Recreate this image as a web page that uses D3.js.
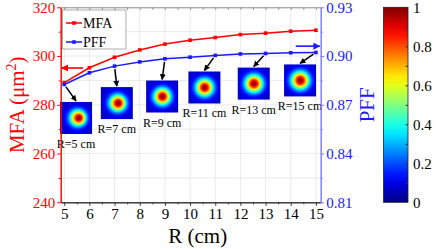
<!DOCTYPE html>
<html>
<head>
<script src="https://cdn.jsdelivr.net/npm/d3@7"></script>
<style>
    body { margin: 0; background: white; }
    svg { display: block; font-family: "Liberation Serif", "Times New Roman", serif; }
    .grid line { stroke: #e6e6e6; stroke-width: 0.8; }
</style>
</head>
<body>
<div id="chart"></div>
<script>
// data
const radius = [5, 6, 7, 8, 9, 10, 11, 12, 13, 14, 15]
const mfa = [289.1, 295.2, 299.5, 302.5, 304.9, 306.5, 307.6, 308.8, 309.4, 310.2, 310.6]
const pff = [0.8825, 0.8897, 0.8938, 0.8964, 0.8983, 0.8993, 0.9004, 0.9013, 0.9016, 0.9020, 0.9022]
const mfaTicks = [240, 260, 280, 300, 320]
const pffTicks = [0.81, 0.84, 0.87, 0.90, 0.93]
const barTicks = [0, 0.2, 0.4, 0.6, 0.8, 1]
// field-pattern insets: which R, where the picture sits (R units, MFA units)
const insetR = [5, 7, 9, 11, 13, 15]
const insetAtR = [5.47, 7.09, 8.89, 10.57, 12.53, 14.37]
const insetAtMfa = [274.6, 280.7, 283.4, 287.1, 288.7, 290.0]

const W = 436, H = 249
const pL = 60.7, pR = 320.7, pT = 7.3, pB = 202.3
const red = '#ff0000', blue = '#1a1aff'
const serif = '"Liberation Serif", "Times New Roman", serif'

const x = d3.scaleLinear().domain([4.86, 15.19]).range([pL, pR])
const yL = d3.scaleLinear().domain([240, 320]).range([pB, pT])
const yR = d3.scaleLinear().domain([0.81, 0.93]).range([pB, pT])

// jet colormap
function jet(v) {
    const c = t => Math.max(0, Math.min(1, t))
    const r = c(1.5 - Math.abs(4 * v - 3))
    const g = c(1.5 - Math.abs(4 * v - 2))
    const b = c(1.5 - Math.abs(4 * v - 1))
    return d3.rgb(r * 255, g * 255, b * 255).formatHex()
}

const svg = d3.select('#chart').append('svg')
    .attr('width', W).attr('height', H)
    .attr('font-family', serif)
const defs = svg.append('defs')

// grid
const grid = svg.append('g').attr('class', 'grid')
grid.selectAll('.gx').data(radius).enter().append('line')
    .attr('x1', d => x(d)).attr('x2', d => x(d))
    .attr('y1', pT).attr('y2', pB)
grid.selectAll('.gy').data(d3.range(250, 320, 10)).enter().append('line')
    .attr('x1', pL).attr('x2', pR)
    .attr('y1', d => yL(d)).attr('y2', d => yL(d))

// legend
const leg = svg.append('g')
leg.append('rect').attr('x', 62.5).attr('y', 10).attr('width', 63.5).attr('height', 39)
    .attr('fill', 'white').attr('stroke', '#9a9a9a').attr('stroke-width', 0.8)
const legItems = [{ name: 'MFA', color: red, y: 23 }, { name: 'PFF', color: blue, y: 42 }]
legItems.forEach(it => {
    leg.append('line').attr('x1', 66).attr('x2', 82).attr('y1', it.y).attr('y2', it.y)
        .attr('stroke', it.color).attr('stroke-width', 1.5)
    leg.append('rect').attr('x', 72.2).attr('y', it.y - 1.8).attr('width', 3.6).attr('height', 3.6)
        .attr('fill', it.color)
    leg.append('text').attr('x', 83).attr('y', it.y + 5).attr('font-size', 14)
        .attr('font-family', serif).attr('fill', 'black').text(it.name)
})

// insets
const size = 32
insetR.forEach((r, i) => {
    const s = 7.6 + 0.1 * (r - 5)
    const g = defs.append('radialGradient').attr('id', 'spot' + i)
        .attr('cx', 0.5).attr('cy', 0.5).attr('r', 0.69)
        .attr('fx', r === 5 ? 0.6 : r === 7 ? 0.55 : 0.51).attr('fy', 0.5)
    d3.range(0, 1.0001, 0.04).forEach(t => {
        const rr = t * 0.69 * size
        const v = Math.exp(-(rr / s) * (rr / s))
        g.append('stop').attr('offset', t).attr('stop-color', jet(v * 0.92 + 0.07))
    })
    const cx = x(insetAtR[i]), cy = yL(insetAtMfa[i])
    svg.append('rect').attr('x', cx - size / 2).attr('y', cy - size / 2)
        .attr('width', size).attr('height', size).attr('fill', `url(#spot${i})`)
    svg.append('text').attr('x', cx).attr('y', cy + size / 2 + 14)
        .attr('text-anchor', 'middle').attr('font-size', 12).attr('fill', 'black')
        .attr('font-family', serif).text(`R=${r} cm`)
})

// arrow markers
function arrowDef(id, color, sz) {
    defs.append('marker').attr('id', id).attr('viewBox', '0 0 10 10')
        .attr('refX', 9).attr('refY', 5).attr('markerWidth', sz).attr('markerHeight', sz)
        .attr('markerUnits', 'userSpaceOnUse')
        .attr('orient', 'auto')
        .append('path').attr('d', 'M0,0 L10,5 L0,10 Z').attr('fill', color)
}
arrowDef('ahK', 'black', 6)
arrowDef('ahR', red, 7)
arrowDef('ahB', blue, 7)

// series
const lineL = d3.line().x((d, i) => x(radius[i])).y(d => yL(d))
const lineR = d3.line().x((d, i) => x(radius[i])).y(d => yR(d))
svg.append('path').datum(mfa).attr('d', lineL).attr('fill', 'none')
    .attr('stroke', red).attr('stroke-width', 1.5)
svg.append('path').datum(pff).attr('d', lineR).attr('fill', 'none')
    .attr('stroke', blue).attr('stroke-width', 1.5)
svg.selectAll('.pm').data(mfa).enter().append('rect')
    .attr('x', (d, i) => x(radius[i]) - 1.8).attr('y', d => yL(d) - 1.8)
    .attr('width', 3.6).attr('height', 3.6).attr('fill', red)
svg.selectAll('.pp').data(pff).enter().append('rect')
    .attr('x', (d, i) => x(radius[i]) - 1.8).attr('y', d => yR(d) - 1.8)
    .attr('width', 3.6).attr('height', 3.6).attr('fill', blue)

// black arrows: from PFF point to inset
insetR.forEach((r, i) => {
    const k = radius.indexOf(r)
    const x0 = x(r), y0 = yR(pff[k])
    const x1 = x(insetAtR[i]), y1 = yL(insetAtMfa[i]) - size / 2 - 1
    const len = Math.hypot(x1 - x0, y1 - y0)
    const ux = (x1 - x0) / len, uy = (y1 - y0) / len
    svg.append('line').attr('x1', x0 + ux * 3).attr('y1', y0 + uy * 3)
        .attr('x2', x1).attr('y2', y1)
        .attr('stroke', 'black').attr('stroke-width', 1.5)
        .attr('marker-end', 'url(#ahK)')
})

// axis-pointing arrows
svg.append('line').attr('x1', x(5.75)).attr('x2', pL + 1)
    .attr('y1', yL(295.1)).attr('y2', yL(295.1))
    .attr('stroke', red).attr('stroke-width', 1.6).attr('marker-end', 'url(#ahR)')
svg.append('line').attr('x1', x(14.2)).attr('x2', pR - 1)
    .attr('y1', yR(0.9061)).attr('y2', yR(0.9061))
    .attr('stroke', blue).attr('stroke-width', 1.6).attr('marker-end', 'url(#ahB)')

// axes
function styleAxis(g, lineColor, textColor, fs) {
    g.attr('font-family', serif)
    g.select('.domain').attr('stroke', lineColor)
    g.selectAll('.tick line').attr('stroke', lineColor)
    g.selectAll('.tick text').attr('fill', textColor)
        .attr('font-family', serif).attr('font-size', fs)
}
// top
const gTop = svg.append('g').attr('transform', `translate(0,${pT})`)
    .call(d3.axisTop(x).tickValues(d3.range(5, 15.01, 0.5)).tickSize(-2.5).tickSizeOuter(0).tickFormat(''))
styleAxis(gTop, '#8c8c8c', 'none', 1)
// bottom
const gXm = svg.append('g').attr('transform', `translate(0,${pB})`)
    .call(d3.axisBottom(x).tickValues(d3.range(5.5, 15, 1)).tickSize(2).tickSizeOuter(0).tickFormat(''))
styleAxis(gXm, '#333', 'none', 1)
const gX = svg.append('g').attr('transform', `translate(0,${pB})`)
    .call(d3.axisBottom(x).tickValues(radius).tickSize(3.5).tickSizeOuter(0).tickPadding(3).tickFormat(d3.format('d')))
styleAxis(gX, '#333', 'black', 15)
// left
const gLm = svg.append('g').attr('transform', `translate(${pL},0)`)
    .call(d3.axisLeft(yL).tickValues(d3.range(250, 320, 20)).tickSize(2).tickSizeOuter(0).tickFormat(''))
styleAxis(gLm, red, 'none', 1)
const gL = svg.append('g').attr('transform', `translate(${pL},0)`)
    .call(d3.axisLeft(yL).tickValues(mfaTicks).tickSize(3.5).tickSizeOuter(0).tickPadding(2))
styleAxis(gL, red, red, 15)
// right
const gRm = svg.append('g').attr('transform', `translate(${pR},0)`)
    .call(d3.axisRight(yR).tickValues([0.825, 0.855, 0.885, 0.915]).tickSize(2).tickSizeOuter(0).tickFormat(''))
styleAxis(gRm, '#7a7aff', 'none', 1)
const gR = svg.append('g').attr('transform', `translate(${pR},0)`)
    .call(d3.axisRight(yR).tickValues(pffTicks).tickSize(3.5).tickSizeOuter(0).tickPadding(2).tickFormat(d3.format('.2f')))
styleAxis(gR, '#7a7aff', blue, 15)

// axis titles
const lt = svg.append('text').attr('transform', `translate(24,${(pT + pB) / 2}) rotate(-90)`)
    .attr('text-anchor', 'middle').attr('font-size', 21).attr('fill', red)
lt.append('tspan').text('MFA (μm')
lt.append('tspan').attr('font-size', 14).attr('dy', -8).text('2')
lt.append('tspan').attr('dy', 8).text(')')
svg.append('text').attr('transform', `translate(374,${(pT + pB) / 2}) rotate(-90)`)
    .attr('text-anchor', 'middle').attr('font-size', 21).attr('fill', blue).text('PFF')
svg.append('text').attr('x', (pL + pR) / 2 + 7).attr('y', 243)
    .attr('text-anchor', 'middle').attr('font-size', 21).attr('fill', 'black').text('R (cm)')

// colorbar
const cb = d3.scaleLinear().domain([0, 1]).range([pB, pT])
const lg = defs.append('linearGradient').attr('id', 'jetbar')
    .attr('x1', 0).attr('x2', 0).attr('y1', 1).attr('y2', 0)
d3.range(0, 1.0001, 0.05).forEach(t => lg.append('stop').attr('offset', t).attr('stop-color', jet(t)))
const cbx = 383.5, cbw = 24.5
svg.append('rect').attr('x', cbx).attr('y', pT).attr('width', cbw).attr('height', pB - pT)
    .attr('fill', 'url(#jetbar)').attr('stroke', '#222').attr('stroke-width', 0.8)
const gC = svg.append('g').attr('transform', `translate(${cbx + cbw},0)`)
    .call(d3.axisLeft(cb).tickValues(d3.range(0.1, 1, 0.1)).tickSize(2.5).tickSizeOuter(0).tickFormat(''))
styleAxis(gC, '#333', 'none', 1)
gC.select('.domain').remove()
const gC2 = svg.append('g').attr('transform', `translate(${cbx + cbw},0)`)
    .call(d3.axisRight(cb).tickValues(barTicks).tickSize(0).tickSizeOuter(0).tickPadding(5).tickFormat(d => d))
styleAxis(gC2, 'none', 'black', 15)
</script>
</body>
</html>
